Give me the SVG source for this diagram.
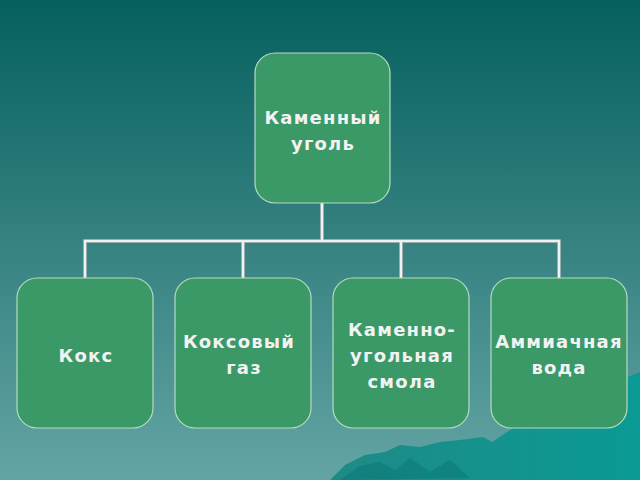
<svg xmlns="http://www.w3.org/2000/svg" width="640" height="480" viewBox="0 0 640 480">
<defs>
<linearGradient id="bg" x1="0" y1="0" x2="0" y2="1">
<stop offset="0" stop-color="#05605e"/>
<stop offset="1" stop-color="#64a4a4"/>
</linearGradient>
<linearGradient id="mt" x1="0" y1="0" x2="1" y2="0">
<stop offset="0" stop-color="#1f8a86"/>
<stop offset="1" stop-color="#0a9a94"/>
</linearGradient>
</defs>
<style>
.box{fill:#3a9966;stroke:#b5dcc0;stroke-width:1.2}
.t{font-family:"DejaVu Sans",sans-serif;font-weight:bold;font-size:18px;letter-spacing:1.2px;fill:#f2f2f2;text-anchor:middle}
.c{fill:none;stroke:#f0f0f0;stroke-width:2.5}
.co{fill:none;stroke:#7a9a9a;stroke-width:4}
</style>
<rect width="640" height="480" fill="url(#bg)"/>
<polygon points="330,480 345,465 365,455 385,452 400,445 420,447 440,442 460,440 483,437 492,442 510,430 530,420 555,405 575,400 600,390 620,380 640,372 640,480" fill="url(#mt)"/>
<polygon points="340,480 360,466 380,462 395,470 410,458 430,472 450,460 470,478" fill="#0c7a78" opacity="0.6"/>
<g id="connectors">
<path class="co" d="M322,203V241M85,278V241H559V278M243,241V278M401,241V278"/>
<path class="c" d="M322,203V241M85,278V241H559V278M243,241V278M401,241V278"/>
</g>
<g id="n0"><rect class="box" x="255" y="53" width="135" height="150" rx="20"/>
<text class="t" x="323" y="124">Каменный</text><text class="t" x="323" y="150">уголь</text></g>
<g id="n1"><rect class="box" x="17" y="278" width="136" height="150" rx="20"/>
<text class="t" x="86" y="362">Кокс</text></g>
<g id="n2"><rect class="box" x="175" y="278" width="136" height="150" rx="20"/>
<text class="t" x="239" y="348">Коксовый</text><text class="t" x="244" y="374">газ</text></g>
<g id="n3"><rect class="box" x="333" y="278" width="136" height="150" rx="20"/>
<text class="t" x="402" y="336">Каменно-</text><text class="t" x="402" y="362">угольная</text><text class="t" x="402" y="388">смола</text></g>
<g id="n4"><rect class="box" x="491" y="278" width="136" height="150" rx="20"/>
<text class="t" x="559" y="348">Аммиачная</text><text class="t" x="559" y="374">вода</text></g>
</svg>
